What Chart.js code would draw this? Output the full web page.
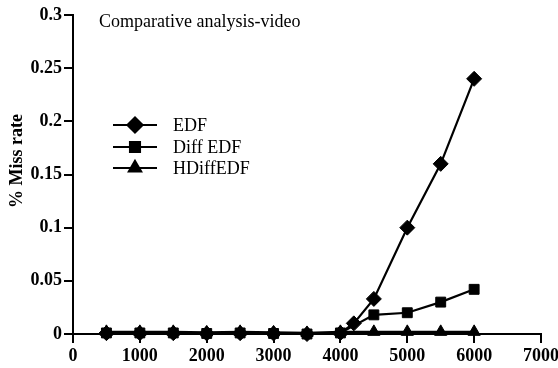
<!DOCTYPE html>
<html>
<head>
<meta charset="utf-8">
<script src="https://cdn.jsdelivr.net/npm/chart.js@4/dist/chart.umd.min.js"></script>
<style>
  html, body { margin: 0; padding: 0; background: #fff; }
  #wrap { width: 558px; height: 368px; }
</style>
</head>
<body>
<div id="wrap"><canvas id="c" width="558" height="368"></canvas></div>
<script>
// Task counts and miss rates for each scheduler
const taskCounts = [500, 1000, 1500, 2000, 2500, 3000, 3500, 4000, 4500, 5000, 5500, 6000];
const edfCounts  = [500, 1000, 1500, 2000, 2500, 3000, 3500, 4000, 4200, 4500, 5000, 5500, 6000];
const edfMiss      = [0.0008, 0.0008, 0.0008, 0.0005, 0.0008, 0.0005, 0.0, 0.001, 0.01, 0.033, 0.1, 0.16, 0.24];
const diffEdfMiss  = [0.001, 0.001, 0.001, 0.0005, 0.001, 0.0005, 0.0, 0.001, 0.018, 0.02, 0.03, 0.042];
const hdiffEdfMiss = [0.002, 0.002, 0.002, 0.0015, 0.002, 0.0015, 0.001, 0.002, 0.002, 0.002, 0.002, 0.002];
const seriesNames = ['EDF', 'Diff EDF', 'HDiffEDF'];
const xTicks = [0, 1000, 2000, 3000, 4000, 5000, 6000, 7000];
const yTicks = [0, 0.05, 0.1, 0.15, 0.2, 0.25, 0.3];

const pairs = (xs, ys) => xs.map((x, i) => ({ x: x, y: ys[i] }));

const serif = '"Liberation Serif", "DejaVu Serif", serif';

// Legend, heading and y-axis caption drawn on the canvas
const innerLegend = {
  id: 'innerLegend',
  afterDatasetsDraw(chart) {
    const ctx = chart.ctx;
    const rows = [125, 147, 168];
    ctx.save();
    chart.data.datasets.forEach((ds, i) => {
      const y = rows[i];
      ctx.strokeStyle = '#000';
      ctx.lineWidth = 2.2;
      ctx.beginPath();
      ctx.moveTo(113, y);
      ctx.lineTo(157, y);
      ctx.stroke();
      Chart.helpers.drawPoint(ctx, {
        pointStyle: ds.pointStyle,
        radius: ds.pointRadius,
        rotation: 0,
        borderWidth: 1
      }, 135, y);
      ctx.fillStyle = '#000';
      ctx.font = '18px ' + serif;
      ctx.textAlign = 'left';
      ctx.textBaseline = 'middle';
      ctx.fillText(ds.label, 173, y + 1);
    });
    ctx.font = '18px ' + serif;
    ctx.textBaseline = 'middle';
    ctx.fillText('Comparative analysis-video', 99, 22);

    ctx.translate(17, 161);
    ctx.rotate(-Math.PI / 2);
    ctx.font = 'bold 18px ' + serif;
    ctx.textAlign = 'center';
    ctx.fillText('% Miss rate', 0, 0);
    ctx.restore();
  }
};

const common = {
  borderColor: '#000',
  backgroundColor: '#000',
  pointBackgroundColor: '#000',
  pointBorderColor: '#000',
  borderWidth: 2.2,
  pointBorderWidth: 1,
  showLine: true,
  tension: 0,
  clip: false
};

new Chart(document.getElementById('c'), {
  type: 'scatter',
  data: {
    datasets: [
      Object.assign({}, common, { label: seriesNames[0], order: 1, data: pairs(edfCounts, edfMiss), pointStyle: 'rectRot', pointRadius: 7.5 }),
      Object.assign({}, common, { label: seriesNames[1], order: 0, data: pairs(taskCounts, diffEdfMiss), pointStyle: 'rect', pointRadius: 7 }),
      Object.assign({}, common, { label: seriesNames[2], order: 2, data: pairs(taskCounts, hdiffEdfMiss), pointStyle: 'triangle', pointRadius: 7 })
    ]
  },
  options: {
    responsive: false,
    animation: false,
    events: [],
    layout: { padding: { top: 15, right: 17, left: 0, bottom: 0 } },
    plugins: { legend: { display: false }, tooltip: { enabled: false } },
    scales: {
      x: {
        type: 'linear',
        min: 0, max: 7000,
        afterBuildTicks: s => { s.ticks = xTicks.map(v => ({ value: v })); },
        afterFit: s => { s.height = 34; s.paddingLeft = 0; s.paddingRight = 0; },
        border: { display: true, color: '#000', width: 2 },
        grid: { display: true, drawOnChartArea: false, drawTicks: true, tickLength: 9, color: '#000', lineWidth: 2 },
        ticks: { color: '#000', padding: 3, maxRotation: 0, callback: v => String(v), font: { family: serif, size: 18, weight: 'bold' } }
      },
      y: {
        type: 'linear',
        min: 0, max: 0.3,
        afterBuildTicks: s => { s.ticks = yTicks.map(v => ({ value: v })); },
        afterFit: s => { s.width = 73; s.paddingTop = 0; s.paddingBottom = 0; },
        border: { display: true, color: '#000', width: 2 },
        grid: { display: true, drawOnChartArea: false, drawTicks: true, tickLength: 9, color: '#000', lineWidth: 2 },
        ticks: { color: '#000', padding: 2, callback: v => String(+v.toFixed(2)), font: { family: serif, size: 18, weight: 'bold' } }
      }
    }
  },
  plugins: [innerLegend]
});
</script>
</body>
</html>
